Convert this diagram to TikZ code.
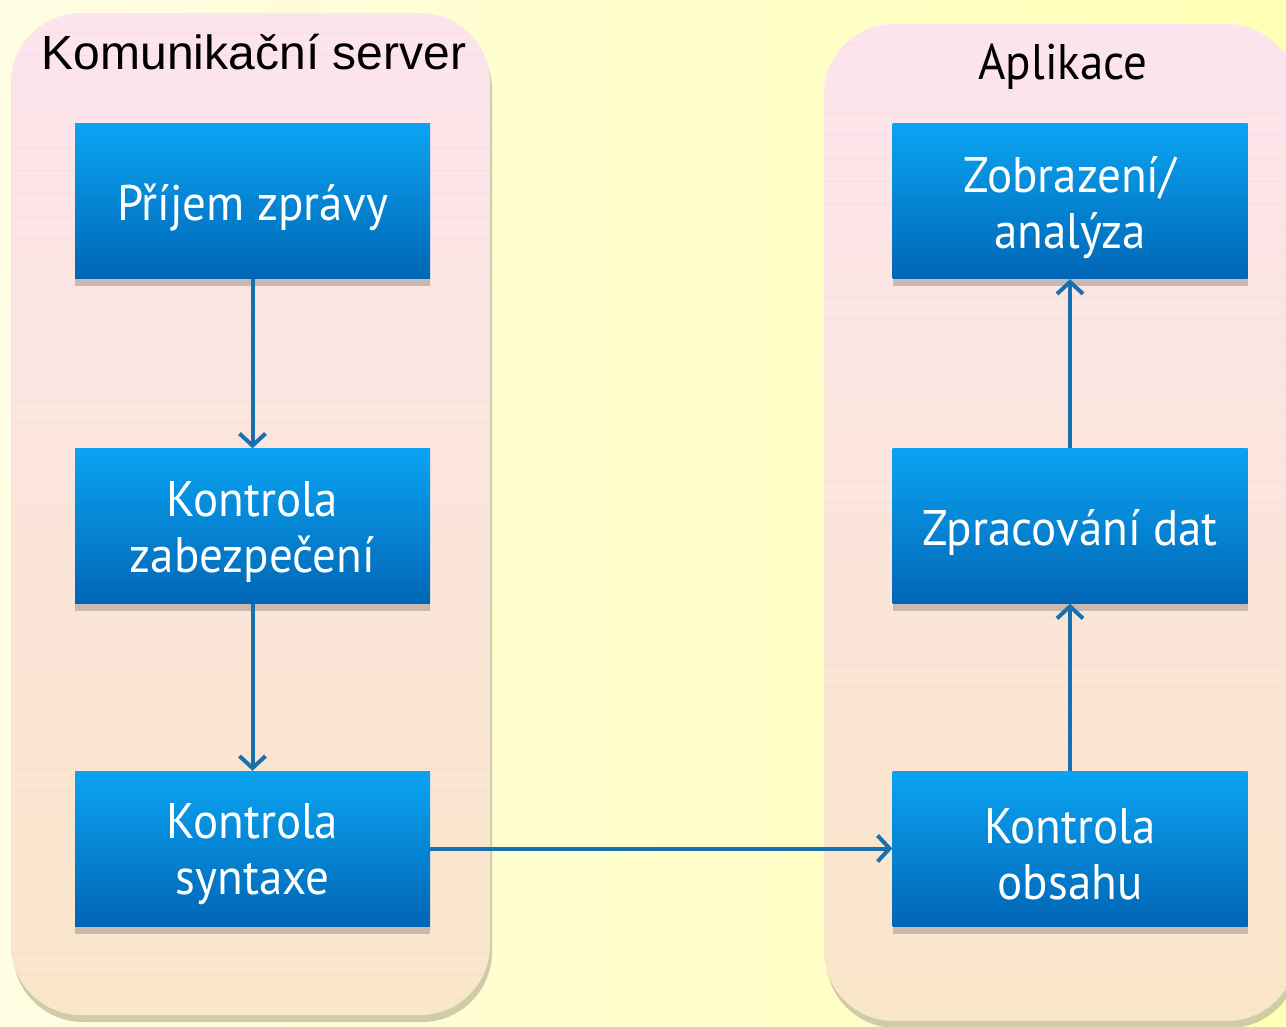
\documentclass[tikz,border=0pt]{standalone}
\usepackage{fontspec}
\setmainfont{Liberation Sans}
\newfontfamily\boxfont[FakeStretch=0.94]{PT Sans}
\usetikzlibrary{arrows.meta}
\definecolor{bgL}{HTML}{FFFDE3}
\definecolor{bgR}{HTML}{FFFFB5}
\definecolor{cTop}{HTML}{FCE4EE}
\definecolor{cBot}{HTML}{FAE6C8}
\definecolor{cShadow}{HTML}{CFCCA8}
\definecolor{cLine}{HTML}{EDD9C8}
\definecolor{bTop}{HTML}{0AA4F2}
\definecolor{bBot}{HTML}{0066B5}
\definecolor{bShadow}{HTML}{C9B8B0}
\definecolor{arr}{HTML}{1770B0}
\tikzset{
  procbox/.style={minimum width=355pt, minimum height=155pt, inner sep=0pt,
    top color=bTop, bottom color=bBot},
  boxtext/.style={text=white, align=center, inner sep=0pt,
    font=\boxfont\fontsize{50}{56}\selectfont},
  flow/.style={draw=arr, line width=4pt, -{Straight Barb[length=12pt,width=26pt,line width=4pt]}},
}
\begin{document}
\begin{tikzpicture}[x=1pt,y=-1pt]
\useasboundingbox (0,0) rectangle (1286,1027);
\shade[left color=bgL, right color=bgR] (0,0) rectangle (1286,1027);
% containers
\fill[cShadow, rounded corners=70pt] (13,20) rectangle (492,1022);
\shade[top color=cTop, bottom color=cBot, rounded corners=70pt] (11,13) rectangle (490,1015);
\fill[cShadow, rounded corners=70pt] (826,31) rectangle (1299,1028);
\shade[top color=cTop, bottom color=cBot, rounded corners=70pt] (824,24) rectangle (1297,1021);
% faint ruling inside the containers
\begin{scope}
  \clip[rounded corners=70pt] (11,13) rectangle (490,1015);
  \foreach \y in {32,55,...,1010} \draw[cLine, line width=0.8pt, opacity=0.4] (11,\y) -- (490,\y);
\end{scope}
\begin{scope}
  \clip[rounded corners=70pt] (824,24) rectangle (1297,1021);
  \foreach \y in {43,66,...,1015} \draw[cLine, line width=0.8pt, opacity=0.4] (824,\y) -- (1297,\y);
\end{scope}
% titles
\node[anchor=base, font=\fontsize{48}{52}\selectfont] (t1) at (254,70) {Komunikační server};
\node[anchor=base, font=\boxfont\fontsize{50}{56}\selectfont] (t2) at (1063,80) {Aplikace};
% box shadows
\foreach \x in {252.5,1070}{
  \foreach \y in {201.5,526,848.5}{
    \fill[bShadow] (\x-177.5,\y-69.5) rectangle (\x+177.5,\y+85);
  }
}
% boxes
\node[procbox] (a1) at (252.5,201.5) {};
\node[procbox] (a2) at (252.5,526) {};
\node[procbox] (a3) at (252.5,848.5) {};
\node[procbox] (b3) at (1070,848.5) {};
\node[procbox] (b2) at (1070,526) {};
\node[procbox] (b1) at (1070,201.5) {};
% box texts
\node[boxtext] (a1t) at ([yshift=-6pt]a1.center) {Příjem zprávy};
\node[boxtext] (a2t) at ([yshift=-6pt]a2.center) {Kontrola\\zabezpečení};
\node[boxtext] (a3t) at ([yshift=-6pt]a3.center) {Kontrola\\syntaxe};
\node[boxtext] (b3t) at ([yshift=-6pt]b3.center) {Kontrola\\obsahu};
\node[boxtext] (b2t) at ([yshift=-6pt]b2.center) {Zpracování dat};
\node[boxtext] (b1t) at ([yshift=-6pt]b1.center) {Zobrazení/\\analýza};
% connectors
\draw[flow] (a1.south) -- (a2.north);
\draw[flow] (a2.south) -- (a3.north);
\draw[flow] (a3.east) -- (b3.west);
\draw[flow] (b3.north) -- (b2.south);
\draw[flow] (b2.north) -- (b1.south);
\end{tikzpicture}
\end{document}
